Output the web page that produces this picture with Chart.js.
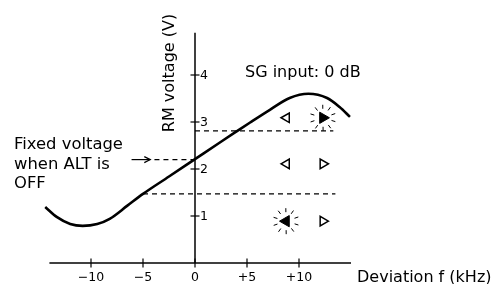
<!DOCTYPE html>
<html>
<head>
<meta charset="utf-8">
<script src="https://cdn.jsdelivr.net/npm/chart.js@4"></script>
<style>
html,body{margin:0;padding:0;background:#fff;}
#wrap{width:500px;height:284px;}
</style>
</head>
<body>
<div id="wrap"><canvas id="c" width="500" height="284"></canvas></div>
<script>
// ---- data ----
const curveX = [-14.4, -13.3, -12.0, -10.8, -9.4, -8.2, -6.5, -5.0, -2.5, 0, 2.5, 4.0, 5.3, 7.2, 9.1, 10.9, 12.7, 13.9, 14.9];
const curveY = [1.19, 0.98, 0.83, 0.79, 0.83, 0.94, 1.22, 1.47, 1.84, 2.21, 2.58, 2.80, 2.99, 3.26, 3.51, 3.60, 3.51, 3.32, 3.11];
const xTicks = [-10, -5, 0, 5, 10];
const xTickLabels = ['\u221210', '\u22125', '0', '+5', '+10'];
const yTicks = [1, 2, 3, 4];
const yTickLabels = ['1', '2', '3', '4'];
const upperDashX = [0, 13.3], upperDashY = [2.81, 2.81];
const lowerDashX = [-5, 13.5], lowerDashY = [1.47, 1.47];
const fixedDashX = [-3.9, 0], fixedDashY = [2.2, 2.2];
const arrowX = [-6.1, -4.3], arrowY = 2.2;
const openLeftX = [8.8, 8.8], openLeftY = [3.09, 2.11];
const openRightX = [12.3, 12.3], openRightY = [2.11, 0.89];
const filledRightX = [12.3], filledRightY = [3.09];
const filledLeftX = [8.75], filledLeftY = [0.89];

const pts = (xs, ys) => xs.map((x, i) => ({x, y: ys[i]}));
const FONT = '"DejaVu Sans", "Liberation Sans", sans-serif';

const drawPlugin = {
  id: 'custom',
  beforeDatasetsDraw(chart) {
    const {ctx, scales: {x, y}} = chart;
    ctx.save();
    ctx.strokeStyle = '#000';
    ctx.lineWidth = 1.5;
    // x axis
    ctx.beginPath();
    ctx.moveTo(x.getPixelForValue(-14), y.getPixelForValue(0));
    ctx.lineTo(x.getPixelForValue(15), y.getPixelForValue(0));
    ctx.stroke();
    // y axis
    ctx.beginPath();
    ctx.moveTo(x.getPixelForValue(0), y.getPixelForValue(0));
    ctx.lineTo(x.getPixelForValue(0), y.getPixelForValue(4.9));
    ctx.stroke();
    // ticks
    ctx.lineWidth = 1.2;
    xTicks.forEach(v => {
      const px = x.getPixelForValue(v), py = y.getPixelForValue(0);
      ctx.beginPath(); ctx.moveTo(px, py - 4.5); ctx.lineTo(px, py + 4.5); ctx.stroke();
    });
    yTicks.forEach(v => {
      const px = x.getPixelForValue(0), py = y.getPixelForValue(v);
      ctx.beginPath(); ctx.moveTo(px - 4.5, py); ctx.lineTo(px + 4.5, py); ctx.stroke();
    });
    // tick labels
    ctx.fillStyle = '#000';
    ctx.font = '12.5px ' + FONT;
    ctx.textAlign = 'center'; ctx.textBaseline = 'middle';
    xTicks.forEach((v, i) => {
      ctx.fillText(xTickLabels[i], x.getPixelForValue(v), 278);
    });
    ctx.textAlign = 'left';
    yTicks.forEach((v, i) => {
      ctx.fillText(yTickLabels[i], x.getPixelForValue(0) + 5, y.getPixelForValue(v) + 1);
    });
    // arrow
    const ay = y.getPixelForValue(arrowY);
    const ax0 = x.getPixelForValue(arrowX[0]), ax1 = x.getPixelForValue(arrowX[1]);
    ctx.lineWidth = 1.2;
    ctx.beginPath(); ctx.moveTo(ax0, ay); ctx.lineTo(ax1, ay); ctx.stroke();
    ctx.beginPath(); ctx.moveTo(ax1 - 6, ay - 3); ctx.lineTo(ax1, ay); ctx.lineTo(ax1 - 6, ay + 3); ctx.stroke();
    // texts
    ctx.font = '16px ' + FONT;
    ctx.textAlign = 'left'; ctx.textBaseline = 'middle';
    ctx.fillText('SG input: 0 dB', 245, 73);
    ctx.fillText('Deviation f (kHz)', 357, 278);
    ctx.font = '16.4px ' + FONT;
    ctx.fillText('Fixed voltage', 14, 145);
    ctx.fillText('when ALT is', 14, 164.5);
    ctx.fillText('OFF', 14, 184);
    ctx.font = '16px ' + FONT;
    ctx.save();
    ctx.translate(170, 73);
    ctx.rotate(-Math.PI / 2);
    ctx.textAlign = 'center';
    ctx.fillText('RM voltage (V)', 0, 0);
    ctx.restore();
    ctx.restore();
  },
  afterDatasetsDraw(chart) {
    const {ctx, scales: {x, y}} = chart;
    ctx.save();
    ctx.strokeStyle = '#000';
    ctx.lineWidth = 1;
    const glow = (xs, ys) => xs.forEach((v, i) => {
      const cx = x.getPixelForValue(v), cy = y.getPixelForValue(ys[i]);
      for (let k = 0; k < 10; k++) {
        const a = k * Math.PI / 5 + 0.3;
        ctx.beginPath();
        ctx.moveTo(cx + Math.cos(a) * 9, cy + Math.sin(a) * 9);
        ctx.lineTo(cx + Math.cos(a) * 13, cy + Math.sin(a) * 13);
        ctx.stroke();
      }
    });
    glow(filledRightX, filledRightY);
    glow(filledLeftX, filledLeftY);
    ctx.restore();
  }
};

const dashStyle = {borderColor: '#000', borderWidth: 1.2, borderDash: [5, 4], pointRadius: 0, fill: false};
const triBase = {type: 'scatter', pointStyle: 'triangle', borderColor: '#000', pointBorderColor: '#000'};

new Chart(document.getElementById('c'), {
  type: 'line',
  data: {
    datasets: [
      Object.assign({data: pts(upperDashX, upperDashY)}, dashStyle),
      Object.assign({data: pts(lowerDashX, lowerDashY)}, dashStyle),
      Object.assign({data: pts(fixedDashX, fixedDashY)}, dashStyle),
      {data: pts(curveX, curveY), borderColor: '#000', borderWidth: 2.6, pointRadius: 0, cubicInterpolationMode: 'monotone', fill: false},
      Object.assign({data: pts(openLeftX, openLeftY), pointRadius: 5.5, pointRotation: -90, pointBackgroundColor: '#fff', pointBorderWidth: 1.5}, triBase),
      Object.assign({data: pts(openRightX, openRightY), pointRadius: 5.5, pointRotation: 90, pointBackgroundColor: '#fff', pointBorderWidth: 1.5}, triBase),
      Object.assign({data: pts(filledRightX, filledRightY), pointRadius: 6.5, pointRotation: 90, pointBackgroundColor: '#000', pointBorderWidth: 1}, triBase),
      Object.assign({data: pts(filledLeftX, filledLeftY), pointRadius: 6.5, pointRotation: -90, pointBackgroundColor: '#000', pointBorderWidth: 1}, triBase)
    ]
  },
  options: {
    responsive: false,
    animation: false,
    devicePixelRatio: 1,
    layout: {padding: {left: 39, right: 149, top: 32.7, bottom: 21}},
    plugins: {legend: {display: false}, tooltip: {enabled: false}},
    scales: {
      x: {type: 'linear', min: -15, max: 15, display: false},
      y: {type: 'linear', min: 0, max: 4.9, display: false}
    }
  },
  plugins: [drawPlugin]
});
</script>
</body>
</html>
